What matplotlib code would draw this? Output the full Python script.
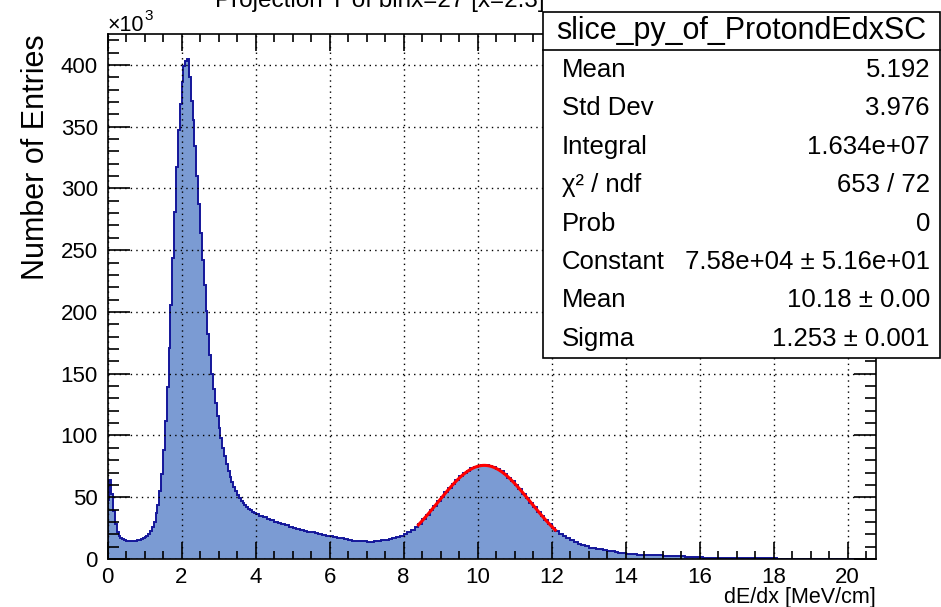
"""
ROOT-style dE/dx slice histogram with gaussian fit and stats box.
"""
import numpy as np
import matplotlib
matplotlib.use("Agg")
import matplotlib.pyplot as plt
from matplotlib.patches import Rectangle
from matplotlib.lines import Line2D
from matplotlib.ticker import MultipleLocator

FILL = "#7b9bd3"
EDGE = "#14169a"
FIT = "#ff0000"

plt.rcParams.update({
    "font.family": "Liberation Sans",
})

# bin contents in units of 10^3 entries
# fine bins (0.05 wide) from 0.0 to 4.0
fine_counts = [
    48, 64, 53, 39, 28.5, 22, 19, 17, 16, 15.2,
    14.6, 14.3, 14.2, 14.2, 14.4, 14.8, 15.1, 15.6, 16.1, 16.8,
    17.6, 18.5, 20.3, 22.8, 26, 30, 37, 44, 55, 69,
    88, 112, 139, 171, 206, 244, 281, 317, 347, 368,
    386, 399, 403, 405, 390, 371, 355, 334, 310, 287,
    264, 242, 222, 201, 182, 165, 150, 138, 126, 116,
    106, 98, 90, 83, 77, 71, 66.5, 62, 58, 55,
    52, 49.5, 47, 45, 43.5, 42, 40.5, 39.3, 38.3, 37.4,
]
# coarse bins (0.1 wide) from 4.0 upwards
coarse_counts = [
    36.5, 35.0, 33.8, 32.6, 31.4, 30.3, 29.2, 28.2, 27.2, 26.2,
    25.3, 24.5, 23.7, 22.9, 22.2, 21.5, 20.8, 20.1, 19.5, 18.9,
    18.3, 17.8, 17.3, 16.8, 16.3, 15.4, 14.8, 14.6, 14.4, 14.2,
    14.1, 14.1, 14.2, 14.5, 15.0, 15.6, 16.3, 17.1, 18.0, 19.0,
    20.2, 21.8, 23.6, 25.6, 28.5, 32.0, 35.6, 39.3, 43.0, 46.8,
    50.3, 54.0, 57.6, 60.9, 64.1, 66.9, 69.5, 71.6, 73.4, 74.7,
    75.6, 76.0, 75.9, 75.3, 74.3, 72.8, 70.9, 68.5, 65.9, 63.0,
    59.9, 56.5, 52.9, 49.3, 45.6, 42.0, 38.4, 35.0, 31.6, 28.4,
    25.4, 22.8, 20.5, 18.5, 16.8, 15.2, 13.8, 12.4, 11.2, 10.2,
    9.3, 8.7, 8.2, 7.7, 7.2, 6.7, 6.2, 5.7, 5.2, 4.8,
    4.4, 4.1, 3.8, 3.6, 3.4, 3.3, 3.2, 3.1, 3.0, 2.9,
    2.8, 2.7, 2.7, 2.6, 2.6, 2.5, 1.4, 1.4, 1.3, 1.3,
    1.3, 1.2, 1.2, 1.2, 1.1, 1.1, 1.1, 1.1, 1.0, 1.0,
    1.0, 1.0, 0.9, 0.9, 0.9, 0.9, 0.9, 0.9, 0.8, 0.8,
    0.9, 0.4, 0.4, 0.4, 0.4, 0.4, 0.3, 0.3, 0.3, 0.3,
    0.3, 0.3, 0.3, 0.3, 0.3, 0.3, 0.2, 0.2, 0.2, 0.2,
    0.2, 0.2, 0.2, 0.2, 0.2, 0.2, 0.2, 0.2,
]

# gaussian fit parameters (from the stats box)
fit_const = 75.8   # x10^3
fit_mean = 10.18
fit_sigma = 1.253
fit_range = (8.4, 12.1)

title = "Projection Y of binx=27 [x=2.3]"
stats_name = "slice_py_of_ProtondEdxSC"
stats_labels = ["Mean", "Std Dev", "Integral", "χ² / ndf", "Prob",
                "Constant", "Mean", "Sigma"]
stats_values = ["5.192", "3.976", "1.634e+07", "653 / 72", "0",
                "7.58e+04 ± 5.16e+01", "10.18 ± 0.00", "1.253 ± 0.001"]

W, H = 941, 607
fig = plt.figure(figsize=(W / 100, H / 100), dpi=100)
L, R, T, B = 107.5, 875.5, 34, 559
ax = fig.add_axes([L / W, 1 - B / H, (R - L) / W, (B - T) / H])

fine_edges = 0.05 * np.arange(len(fine_counts) + 1)
coarse_edges = 4.0 + 0.1 * np.arange(len(coarse_counts) + 1)
edges = np.concatenate([fine_edges, coarse_edges[1:]])
counts = np.array(fine_counts + coarse_counts)

ax.stairs(counts, edges, fill=True, color=FILL, zorder=1)
ax.stairs(counts, edges, color=EDGE, linewidth=1.4, zorder=2)

xf = np.linspace(fit_range[0], fit_range[1], 200)
ax.plot(xf, fit_const * np.exp(-0.5 * ((xf - fit_mean) / fit_sigma) ** 2),
        color=FIT, linewidth=2.2, zorder=3)

ax.set_xlim(0, 20.75)
ax.set_ylim(0, 425)
ax.xaxis.set_major_locator(MultipleLocator(2))
ax.xaxis.set_minor_locator(MultipleLocator(0.5))
ax.yaxis.set_major_locator(MultipleLocator(50))
ax.yaxis.set_minor_locator(MultipleLocator(10))
ax.grid(True, which="major", color="black", linestyle=(0, (1, 3)), linewidth=1)
ax.set_axisbelow(False)
ax.tick_params(which="both", direction="in", top=True, right=True,
               labelsize=16, width=1.2, colors="black")
ax.tick_params(axis="x", which="major", length=12, pad=6)
ax.tick_params(axis="x", which="minor", length=6)
ax.tick_params(axis="y", which="major", length=16, pad=7)
ax.tick_params(axis="y", which="minor", length=8)
for s in ax.spines.values():
    s.set_linewidth(1.2)

ax.set_ylabel("Number of Entries", fontsize=22, loc="top", labelpad=7)
ax.set_xlabel("dE/dx [MeV/cm]", fontsize=15.5, loc="right", labelpad=-1)
# axis multiplier
fig.text(L / W, 1 - 31 / H, "×10", fontsize=15.5, va="baseline", ha="left")
fig.text(144.5 / W, 1 - 20 / H, "3", fontsize=11, va="baseline", ha="left")

# title, mostly cut by the top edge
fig.text(215 / W, 1 - 7 / H, title, fontsize=17.5, ha="left", va="baseline")

# stats box
bx0, bx1, by0, by1, hdr = 543, 940, 12, 358, 50
fig.add_artist(Rectangle((bx0 / W, 1 - by1 / H), (bx1 - bx0) / W, (by1 - by0) / H,
                         transform=fig.transFigure, facecolor="white",
                         edgecolor="black", linewidth=1.2, zorder=5))
fig.add_artist(Line2D([bx0 / W, bx1 / W], [1 - hdr / H, 1 - hdr / H],
                      transform=fig.transFigure, color="black", linewidth=1.2, zorder=6))
fig.text((bx0 + bx1) / 2 / W, 1 - 31 / H, stats_name, fontsize=22,
         ha="center", va="center", zorder=7)
for i, (lab, val) in enumerate(zip(stats_labels, stats_values)):
    yy = 1 - (70 + 38.4 * i) / H
    fig.text(562 / W, yy, lab, fontsize=18.5, ha="left", va="center", zorder=7)
    fig.text(930 / W, yy, val, fontsize=18.5, ha="right", va="center", zorder=7)

fig.savefig("out.png", dpi=100, facecolor="white")
